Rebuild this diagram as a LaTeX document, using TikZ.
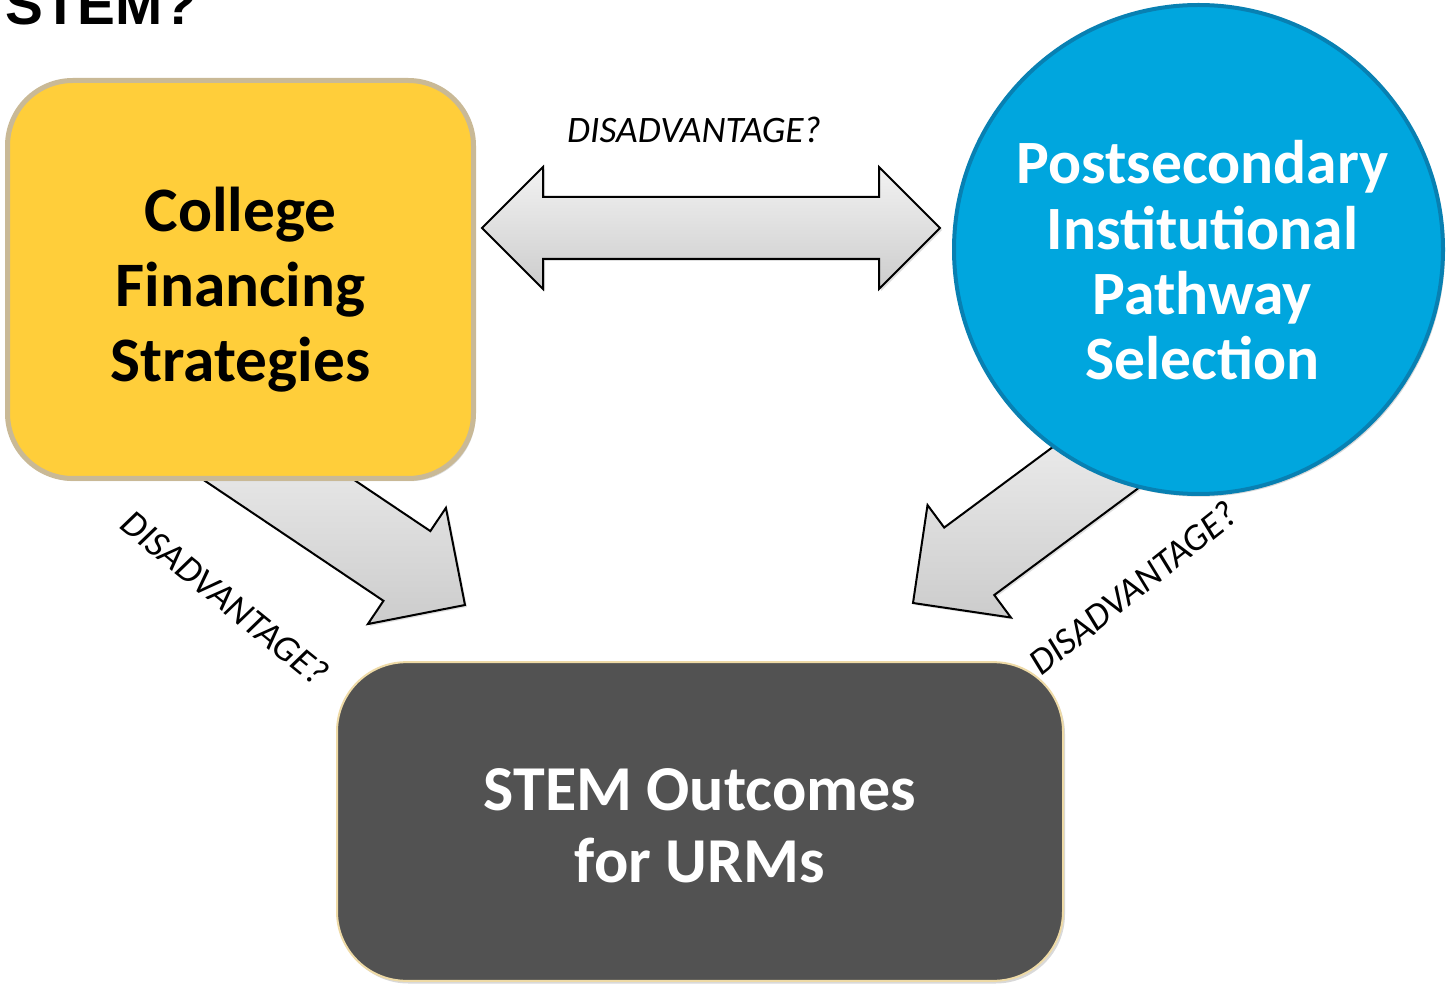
\documentclass[tikz,border=0pt]{standalone}
\usepackage{fontspec}
\setmainfont{Carlito}
\newfontfamily\titlefont{Liberation Sans}
\usetikzlibrary{calc,shadows,backgrounds}

\tikzset{
  boxshadow/.style={drop shadow={opacity=0.3,shadow xshift=1.5pt,shadow yshift=-2pt}},
  finbox/.style={rounded corners=49pt, boxshadow,
    draw={rgb, 255:red, 201; green, 185; blue, 150}, line width=3.75pt,
    fill={rgb, 255:red, 255; green, 206; blue, 58},
    minimum width=349.5pt, minimum height=298.5pt},
  pathcircle/.style={circle, inner sep=0pt, boxshadow,
    draw={rgb, 255:red, 8; green, 128; blue, 178}, line width=3pt,
    fill={rgb, 255:red, 0; green, 166; blue, 222},
    minimum size=366.75pt},
  urmbox/.style={rounded corners=52pt, boxshadow,
    draw={rgb, 255:red, 238; green, 218; blue, 166}, line width=1.5pt,
    fill={rgb, 255:red, 82; green, 82; blue, 82},
    minimum width=544.5pt, minimum height=239pt},
  boxtext/.style={align=center, inner sep=0pt},
  blockarrow/.style={draw=black, line width=1.5pt, line join=miter,
    top color=white!95!black, bottom color=white!80!black,
    drop shadow={opacity=0.25,shadow xshift=1.5pt,shadow yshift=-1.5pt}},
  lbl/.style={inner sep=0pt, font=\itshape\fontsize{28}{32}\selectfont}
}

\begin{document}
\begin{tikzpicture}[x=0.75pt,y=0.75pt,yscale=-1,xscale=1]
\useasboundingbox (0,0) rectangle (1447,987);

% Title (cut off at the top)
\node [anchor=base west, inner sep=0pt, font=\titlefont\bfseries\fontsize{42.5}{42.5}\selectfont] (title) at (5,25) {STEM?};

% Boxes
\node [finbox] (fin) at (240.5,279.5) {};
\node [pathcircle] (path) at (1198.5,249.5) {};
\node [urmbox] (urm) at (700,821.5) {};

% Box texts
\node [boxtext, font=\bfseries\fontsize{47.5}{56}\selectfont] (finText) at ($(fin.center)+(0,10)$) {College\\Financing\\Strategies};
\node [boxtext, text=white, font=\bfseries\fontsize{46.2}{49}\selectfont] (pathText) at ($(path.center)+(4,11)$) {Postsecondary\\Institutional\\Pathway\\Selection};
\node [boxtext, text=white, font=\bfseries\fontsize{48}{54}\selectfont] (urmText) at ($(urm.center)+(0,4)$) {STEM Outcomes\\for URMs};

% free ends of the block arrows
\coordinate (dblL) at (482,228);
\coordinate (dblR) at (940,228);
\coordinate (finTail) at ($(fin.south)+(-28.5,-46)$);
\coordinate (finTip) at (465,605);
\coordinate (pathTail) at ($(path.center)+(-45.5,175.5)$);
\coordinate (pathTip) at (913,603);

\begin{scope}[on background layer]
%Double arrow between fin and path
\coordinate (dblLb) at ($(dblL)!45.75pt!(dblR)$);
\coordinate (dblRb) at ($(dblR)!45.75pt!(dblL)$);
\draw [blockarrow] (dblL) -- ($(dblLb)!45.75pt!90:(dblR)$) -- ($(dblLb)!23.25pt!90:(dblR)$) -- ($(dblRb)!23.25pt!90:(dblR)$) -- ($(dblRb)!45.75pt!90:(dblR)$) -- (dblR) -- ($(dblRb)!45.75pt!-90:(dblR)$) -- ($(dblRb)!23.25pt!-90:(dblR)$) -- ($(dblLb)!23.25pt!-90:(dblR)$) -- ($(dblLb)!45.75pt!-90:(dblR)$) -- cycle;
%Arrow fin -> urm
\coordinate (finBase) at ($(finTip)!52.5pt!(finTail)$);
\draw [blockarrow] ($(finTail)!31.5pt!90:(finTip)$) -- ($(finBase)!31.5pt!90:(finTip)$) -- ($(finBase)!52.5pt!90:(finTip)$) -- (finTip) -- ($(finBase)!52.5pt!-90:(finTip)$) -- ($(finBase)!31.5pt!-90:(finTip)$) -- ($(finTail)!31.5pt!-90:(finTip)$) -- cycle;
%Arrow path -> urm
\coordinate (pathBase) at ($(pathTip)!52.5pt!(pathTail)$);
\draw [blockarrow] ($(pathTail)!31.5pt!90:(pathTip)$) -- ($(pathBase)!31.5pt!90:(pathTip)$) -- ($(pathBase)!52.5pt!90:(pathTip)$) -- (pathTip) -- ($(pathBase)!52.5pt!-90:(pathTip)$) -- ($(pathBase)!31.5pt!-90:(pathTip)$) -- ($(pathTail)!31.5pt!-90:(pathTip)$) -- cycle;
\end{scope}

% Text Node
\node [lbl] (lblTop) at (694,130) {DISADVANTAGE?};
% Text Node
\node [lbl, rotate=-39] (lblLeft) at (225,598) {DISADVANTAGE?};
% Text Node
\node [lbl, rotate=38.5] (lblRight) at (1133,588) {DISADVANTAGE?};

\end{tikzpicture}
\end{document}
